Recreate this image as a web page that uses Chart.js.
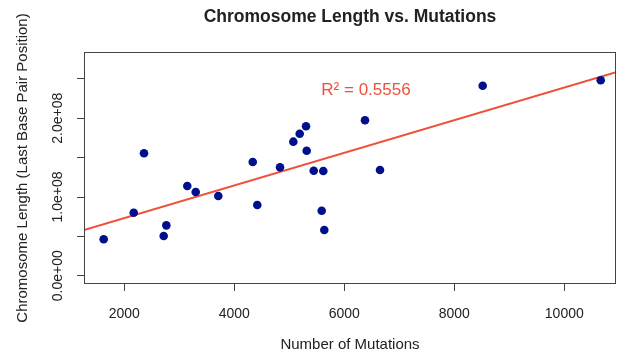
<!DOCTYPE html>
<html>
<head>
<meta charset="utf-8">
<title>Chromosome Length vs. Mutations</title>
<script src="https://cdn.jsdelivr.net/npm/chart.js@4/dist/chart.umd.min.js"></script>
<style>
  html, body { margin: 0; padding: 0; background: #fff; }
  #wrap { width: 623px; height: 354px; position: relative; }
</style>
</head>
<body>
<div id="wrap"><canvas id="scatterChart"></canvas></div>
<script>
// Chromosome length vs number of mutations
const mutations = [1625, 2171, 2358, 2716, 2764, 3145, 3298, 3709, 4335, 4418, 4831, 5073,
                   5189, 5304, 5316, 5444, 5618, 5589, 5636, 6376, 6649, 8516, 10662];
const lengths = [46250000, 80000000, 155500000, 50400000, 64000000, 114000000, 106300000,
                 101300000, 144500000, 89800000, 137700000, 170300000, 180400000, 189800000,
                 158800000, 133400000, 133000000, 82600000, 58000000, 197500000, 134300000,
                 241400000, 248300000];

// fitted line, ends as seen at the plot edges
const fitX = [1267, 10940];
const fitY = [58000000, 258500000];

const xTicks = [2000, 4000, 6000, 8000, 10000];
const yTicks = [0, 50000000, 100000000, 150000000, 200000000, 250000000];
const yLabels = { 0: '0.0e+00', 100000000: '1.0e+08', 200000000: '2.0e+08' };
const r2Text = 'R\u00b2 = 0.5556';
const r2At = { x: 6394, y: 235000000 };

const FONT = '"Liberation Sans", Arial, Helvetica, sans-serif';
const RED = '#ef5039';
const INK = '#222';

// R-style box, rotated y labels and R² note
const rStylePlugin = {
    id: 'rStyle',
    afterDraw(chart) {
        const { ctx, chartArea: a, scales } = chart;
        ctx.save();
        ctx.strokeStyle = '#444';
        ctx.lineWidth = 1;
        ctx.strokeRect(Math.round(a.left) + 0.5, Math.round(a.top) + 0.5,
                       Math.round(a.right - a.left) - 1, Math.round(a.bottom - a.top) - 1);

        ctx.fillStyle = INK;
        ctx.font = '14px ' + FONT;
        ctx.textAlign = 'center';
        ctx.textBaseline = 'middle';
        Object.keys(yLabels).forEach(v => {
            const py = scales.y.getPixelForValue(+v);
            ctx.save();
            ctx.translate(a.left - 26, py);
            ctx.rotate(-Math.PI / 2);
            ctx.fillText(yLabels[v], 0, 0);
            ctx.restore();
        });

        ctx.fillStyle = RED;
        ctx.font = '17px ' + FONT;
        ctx.fillText(r2Text, scales.x.getPixelForValue(r2At.x), scales.y.getPixelForValue(r2At.y));
        ctx.restore();
    }
};

new Chart(document.getElementById('scatterChart'), {
    type: 'scatter',
    data: {
        datasets: [
            {
                label: 'Chromosomes',
                data: mutations.map((m, i) => ({ x: m, y: lengths[i] })),
                backgroundColor: '#00108c',
                borderWidth: 0,
                pointRadius: 4.3,
                order: 1
            },
            {
                type: 'line',
                label: 'Fit',
                data: fitX.map((m, i) => ({ x: m, y: fitY[i] })),
                borderColor: RED,
                borderWidth: 2,
                pointRadius: 0,
                order: 2
            }
        ]
    },
    options: {
        responsive: true,
        maintainAspectRatio: false,
        animation: false,
        layout: { padding: { left: 0, right: 7, top: 0, bottom: 0 } },
        plugins: {
            legend: { display: false },
            tooltip: { enabled: false },
            title: {
                display: true,
                fullSize: false,
                text: 'Chromosome Length vs. Mutations',
                color: INK,
                font: { family: FONT, size: 17.5, weight: 'bold' },
                padding: { top: 7, bottom: 24 }
            }
        },
        scales: {
            x: {
                type: 'linear',
                min: 1267,
                max: 10940,
                afterBuildTicks: s => { s.ticks = xTicks.map(v => ({ value: v })); },
                afterFit: s => { s.height = 70; },
                grid: { drawOnChartArea: false, drawTicks: true, tickLength: 7, color: '#444' },
                border: { display: false },
                ticks: {
                    color: INK,
                    font: { family: FONT, size: 14 },
                    padding: 15,
                    maxRotation: 0,
                    callback: v => String(v)
                },
                title: {
                    display: true,
                    text: 'Number of Mutations',
                    color: INK,
                    font: { family: FONT, size: 15 },
                    padding: { top: 0, bottom: 0 }
                }
            },
            y: {
                type: 'linear',
                min: -10500000,
                max: 284200000,
                afterBuildTicks: s => { s.ticks = yTicks.map(v => ({ value: v })); },
                afterFit: s => { s.width = 84; },
                grid: { drawOnChartArea: false, drawTicks: true, tickLength: 7, color: '#444' },
                border: { display: false },
                ticks: { display: false },
                title: {
                    display: true,
                    text: 'Chromosome Length (Last Base Pair Position)',
                    color: INK,
                    font: { family: FONT, size: 15 },
                    padding: { top: 14, bottom: 0 }
                }
            }
        }
    },
    plugins: [rStylePlugin]
});
</script>
</body>
</html>
